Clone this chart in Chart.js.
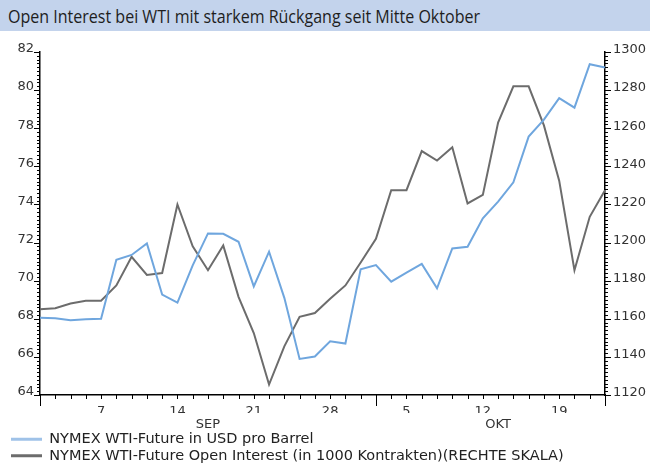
<!DOCTYPE html>
<html lang="de">
<head>
<meta charset="utf-8">
<title>Open Interest bei WTI</title>
<script src="https://cdn.jsdelivr.net/npm/chart.js@4.4.1/dist/chart.umd.min.js"></script>
<style>
    html, body { margin: 0; padding: 0; background: #fff; overflow: hidden; }
    .wrap { position: relative; width: 650px; height: 468px; }
    .title-bar {
        position: absolute; left: 0; top: 0; width: 650px; height: 31px;
        background: #c3d3ec; z-index: 2; overflow: hidden;
    }
    .title-bar span {
        position: absolute; left: 8px; top: 4px; white-space: nowrap;
        font-family: 'Open Sans', sans-serif; font-size: 18px; color: #1e1e1e;
        transform-origin: left center;
    }
    canvas { position: absolute; left: 0; top: 0; }
</style>
</head>
<body>
<div class="wrap">
    <div class="title-bar"><span id="titleText">Open Interest bei WTI mit starkem Rückgang seit Mitte Oktober</span></div>
    <canvas id="oiChart" width="650" height="468"></canvas>
</div>
<script>
// trading days, Sep 1 - Oct 22
const dates = [
    '01.09', '02.09', '03.09', '04.09', '07.09', '08.09', '09.09', '10.09', '11.09',
    '14.09', '15.09', '16.09', '17.09', '18.09', '21.09', '22.09', '23.09', '24.09', '25.09',
    '28.09', '29.09', '30.09', '01.10', '02.10', '05.10', '06.10', '07.10', '08.10', '09.10',
    '12.10', '13.10', '14.10', '15.10', '16.10', '19.10', '20.10', '21.10', '22.10'
];

// NYMEX WTI-Future, USD pro Barrel (left axis)
const wtiPrice = [
    68.05, 68.03, 67.92, 67.97, 68.00, 71.10, 71.35, 71.95, 69.27,
    68.85, 70.80, 72.48, 72.46, 72.04, 69.70, 71.52, 69.10, 65.89, 66.02,
    66.82, 66.70, 70.60, 70.82, 69.95, 70.42, 70.88, 69.60, 71.69, 71.78,
    73.27, 74.15, 75.16, 77.56, 78.45, 79.58, 79.08, 81.36, 81.19
];

// Open Interest in 1000 Kontrakten (right axis)
const openInterest = [
    1165, 1165.5, 1168, 1169.5, 1169.5, 1177.5, 1192.5, 1183, 1184,
    1220, 1198, 1185.5, 1198.5, 1171.5, 1152.5, 1125.5, 1145.5, 1161, 1163,
    1170.5, 1177.5, 1189.5, 1202, 1227.5, 1227.5, 1248, 1243, 1250, 1220.5,
    1225, 1263, 1282, 1282, 1261.5, 1232.5, 1185.5, 1213.5, 1227.5
];

// labelled days and month names on the x axis
const dayTicks = ['07.09', '14.09', '21.09', '28.09', '05.10', '12.10', '19.10'];
const monthNames = ['SEP', 'OKT'];
const monthAt = ['16.09', '13.10'];

const seriesNames = [
    'NYMEX WTI-Future in USD pro Barrel',
    'NYMEX WTI-Future Open Interest (in 1000 Kontrakten)(RECHTE SKALA)'
];

const axisFont = { family: "'DejaVu Sans', sans-serif", size: 13 };
const legendFont = { family: "'DejaVu Sans', sans-serif", size: 14.5 };

// small tick marks along all three axes
const tickMarks = {
    id: 'tickMarks',
    afterDraw(chart) {
        const ctx = chart.ctx;
        const area = chart.chartArea;
        const { x, y, y1 } = chart.scales;
        ctx.save();
        ctx.strokeStyle = '#000';
        ctx.lineWidth = 1;
        ctx.beginPath();

        dates.forEach((d, i) => {
            const px = Math.round(x.getPixelForValue(i)) + 0.5;
            const len = (i === 0 || i === dates.length - 1 || d.startsWith('01.')) ? 11 : 4;
            ctx.moveTo(px, area.bottom);
            ctx.lineTo(px, area.bottom + len);
        });

        for (let k = 0; k <= 90; k++) {
            const py = Math.round(y.getPixelForValue(y.min + k * 0.2)) + 0.5;
            ctx.moveTo(area.left, py);
            ctx.lineTo(area.left - (k % 10 === 0 ? 6 : 3), py);
        }

        for (let k = 0; k <= 90; k++) {
            const py = Math.round(y1.getPixelForValue(y1.min + k * 2)) + 0.5;
            ctx.moveTo(area.right, py);
            ctx.lineTo(area.right + (k % 10 === 0 ? 6 : 3), py);
        }

        ctx.stroke();
        ctx.restore();
    }
};

document.addEventListener('DOMContentLoaded', function() {
    // squeeze the title to the width of the original
    const titleEl = document.getElementById('titleText');
    const w = titleEl.getBoundingClientRect().width;
    titleEl.style.transform = 'scaleX(' + (472 / w) + ')';

    new Chart(document.getElementById('oiChart'), {
        type: 'line',
        data: {
            labels: dates,
            datasets: [{
                label: seriesNames[0],
                data: wtiPrice,
                yAxisID: 'y',
                borderColor: '#6fa6de',
                backgroundColor: '#9fc2e8',
                borderWidth: 2,
                pointRadius: 0,
                tension: 0
            }, {
                label: seriesNames[1],
                data: openInterest,
                yAxisID: 'y1',
                borderColor: '#6c6c6c',
                backgroundColor: '#6c6c6c',
                borderWidth: 2,
                pointRadius: 0,
                tension: 0
            }]
        },
        options: {
            responsive: false,
            animation: false,
            devicePixelRatio: 1,
            layout: { padding: { top: 52, left: 9, right: 0, bottom: -5 } },
            plugins: {
                title: { display: false },
                tooltip: { enabled: false },
                legend: {
                    position: 'bottom',
                    align: 'start',
                    labels: {
                        boxWidth: 31,
                        boxHeight: 3,
                        padding: 2,
                        color: '#222',
                        font: legendFont,
                        generateLabels(chart) {
                            const items = Chart.defaults.plugins.legend.labels.generateLabels(chart);
                            items.forEach(it => { it.lineWidth = 0; });
                            return items;
                        }
                    }
                }
            },
            scales: {
                x: {
                    type: 'category',
                    offset: false,
                    grid: { display: false, drawTicks: false },
                    border: { display: true, color: '#000', width: 1.5 },
                    ticks: {
                        autoSkip: false,
                        maxRotation: 0,
                        padding: 9,
                        color: '#333',
                        font: axisFont,
                        callback(v) {
                            const d = this.getLabelForValue(v);
                            return dayTicks.includes(d) ? String(parseInt(d, 10)) : '';
                        }
                    },
                    afterFit(s) { s.height = 18; }
                },
                xm: {
                    type: 'category',
                    position: 'bottom',
                    weight: 1,
                    offset: false,
                    grid: { display: false, drawTicks: false },
                    border: { display: false },
                    ticks: {
                        autoSkip: false,
                        maxRotation: 0,
                        padding: 4,
                        color: '#333',
                        font: axisFont,
                        callback(v) {
                            const i = monthAt.indexOf(this.getLabelForValue(v));
                            return i >= 0 ? monthNames[i] : '';
                        }
                    },
                    afterFit(s) { s.height = 17; }
                },
                y: {
                    position: 'left',
                    min: 64,
                    max: 82,
                    grid: { display: false, drawTicks: false },
                    border: { display: true, color: '#000', width: 1.5 },
                    ticks: { stepSize: 2, padding: 6, labelOffset: -3, color: '#333', font: axisFont },
                    afterFit(s) { s.width = 31; }
                },
                y1: {
                    position: 'right',
                    min: 1120,
                    max: 1300,
                    grid: { display: false, drawTicks: false },
                    border: { display: true, color: '#000', width: 1.5 },
                    ticks: {
                        stepSize: 20, padding: 8, labelOffset: -2, color: '#333', font: axisFont,
                        callback: v => String(v)
                    },
                    afterFit(s) { s.width = 45; }
                }
            }
        },
        plugins: [tickMarks]
    });
});
</script>
</body>
</html>
